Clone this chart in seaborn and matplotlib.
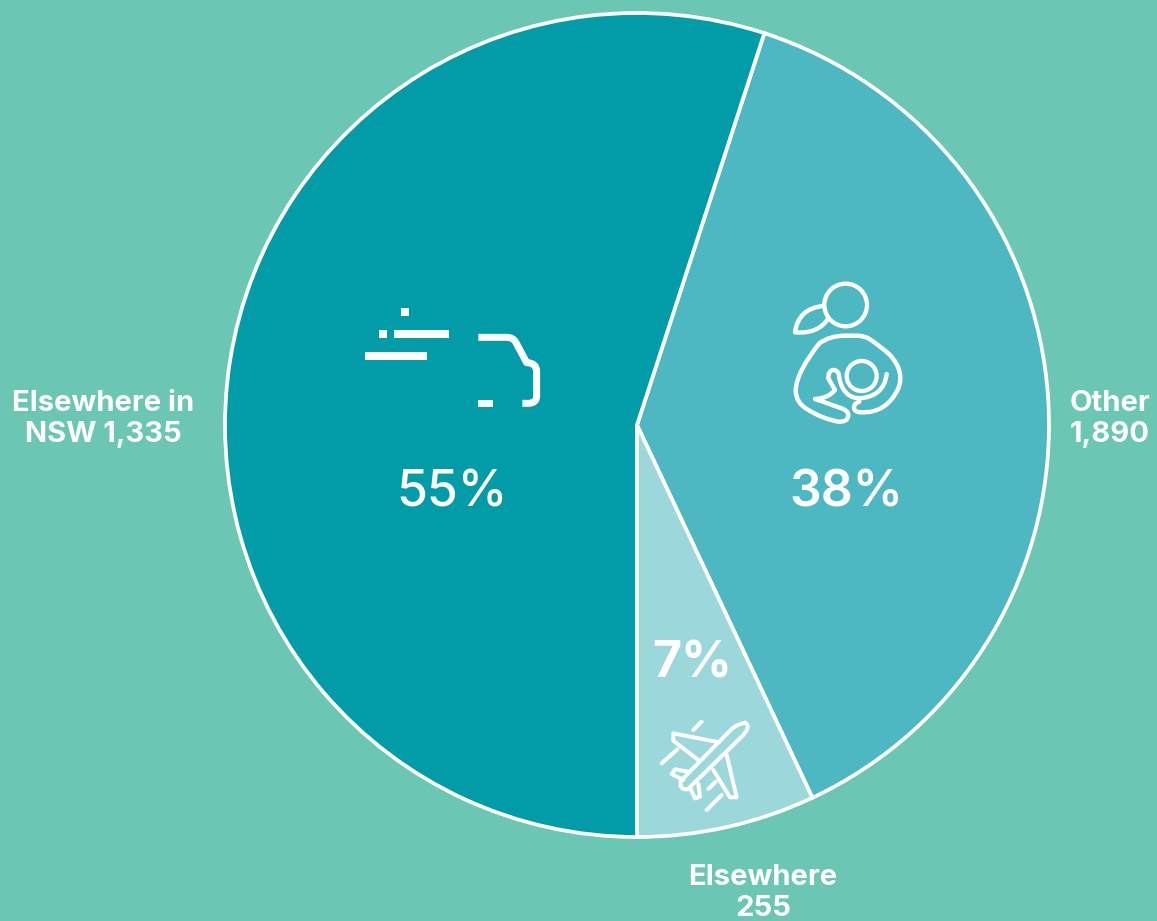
import matplotlib
matplotlib.use("Agg")
import matplotlib.pyplot as plt
import seaborn as sns
from matplotlib.path import Path
from matplotlib.patches import PathPatch, Circle, Rectangle

# Share of people by location, clockwise from the "Other" slice
slice_names = ["Other", "Elsewhere", "Elsewhere in NSW"]
slice_shares = [38, 7, 55]
share_labels = ["38%", "7%", "55%"]
slice_colors = ["#4DB8C2", "#9CD8DB", "#019CA8"]
count_labels = ["Other\n1,890", "Elsewhere\n255", "Elsewhere in\nNSW 1,335"]

BG = "#6BC6B3"
W, H = 1157, 921

sns.set_theme(style="white")
plt.rcParams["font.family"] = ["Inter", "DejaVu Sans"]

fig = plt.figure(figsize=(W / 100, H / 100), dpi=100, facecolor=BG)

# Pie, with its axes sized to the circle
ax = fig.add_axes([(637 - 412) / W, (H - 837) / H, 824 / W, 824 / H])
ax.pie(slice_shares, colors=slice_colors, startangle=72, counterclock=False,
       radius=1.0, wedgeprops=dict(edgecolor="white", linewidth=2.7, clip_on=False))
ax.set_xlim(-1, 1)
ax.set_ylim(-1, 1)

# Overlay in pixel units for the labels and line icons
ov = fig.add_axes([0, 0, 1, 1], facecolor="none")
ov.set_xlim(0, W)
ov.set_ylim(H, 0)
ov.axis("off")

for (x, y), s, size, weight in zip([(846, 493), (692, 664), (452, 493)], share_labels,
                                   [36, 36, 36], [600, 700, 500]):
    ov.text(x, y, s, color="white", fontsize=size, fontweight=weight, ha="center", va="center")

for (x, y), s in zip([(1110, 419), (763, 893), (103, 419)], count_labels):
    ov.text(x, y, s, color="white", fontsize=21, fontweight="bold", ha="center", va="center",
            linespacing=1.22)


def stroke(ox, oy, segments, lw, cap="round"):
    """Stroke a poly-curve given in 3x icon units; a 4-number item is a quadratic (ctrl, end)."""
    verts, codes = [], []
    for i, seg in enumerate(segments):
        if len(seg) == 2:
            verts.append((ox + seg[0] / 3, oy + seg[1] / 3))
            codes.append(Path.MOVETO if i == 0 else Path.LINETO)
        else:
            verts.append((ox + seg[0] / 3, oy + seg[1] / 3))
            verts.append((ox + seg[2] / 3, oy + seg[3] / 3))
            codes += [Path.CURVE3, Path.CURVE3]
    ov.add_patch(PathPatch(Path(verts, codes), fill=False, edgecolor="white",
                           linewidth=lw * 0.72, capstyle=cap, joinstyle="round"))


# Truck icon
for x0, y0, x1, y1 in [(401, 308, 408.5, 315.5), (379, 330, 387, 337.5), (394, 330, 449, 337.5),
                       (365, 352, 427, 359.5), (478, 400, 493, 407)]:
    ov.add_patch(Rectangle((x0, y0), x1 - x0, y1 - y0, facecolor="white", edgecolor="none"))
stroke(350, 290, [(385, 142), (470, 142), (490, 142, 498, 158), (530, 218), (560, 218, 560, 245),
                  (560, 318), (560, 340, 535, 340), (517, 340)], 7, cap="butt")

# Mother and baby icon
ov.add_patch(Circle((780 + 197 / 3, 275 + 90 / 3), 64 / 3, fill=False, edgecolor="white", linewidth=3.1))
ov.add_patch(Circle((780 + 245 / 3, 275 + 303 / 3), 45 / 3, fill=False, edgecolor="white", linewidth=3.1))
stroke(780, 275, [(130, 93), (55, 100, 45, 172), (115, 178, 145, 130)], 4.4)
stroke(780, 275, [(195, 182), (150, 182, 118, 205), (50, 290, 47, 345), (47, 385, 85, 405),
                  (130, 432, 175, 440), (205, 442, 205, 420), (205, 408, 185, 400), (105, 372),
                  (145, 370, 165, 345), (145, 310), (145, 285, 160, 285), (178, 285, 178, 310),
                  (190, 368, 238, 370), (312, 365, 320, 297)], 4.4)
stroke(780, 275, [(238, 380), (222, 385, 222, 398), (222, 412, 245, 412), (320, 415, 355, 340),
                  (375, 290, 330, 240), (300, 212, 265, 190), (250, 182, 230, 182), (195, 182)], 4.4)

# Plane icon
plane = [[(300, 38), (270, 45, 255, 62), (108, 212), (100, 240, 128, 238), (285, 85), (322, 50, 300, 38)],
         [(222, 97), (85, 70), (85, 92), (160, 150)],
         [(245, 135), (275, 262), (255, 262), (205, 180)],
         [(130, 185), (90, 178), (80, 192), (115, 210)],
         [(137, 237), (150, 265), (165, 260), (160, 222)],
         [(170, 35), (145, 60)], [(97, 118), (50, 160)], [(212, 215), (190, 237)], [(230, 255), (185, 300)]]
for part in plane:
    stroke(645, 710, part, 4)

fig.savefig("out.png", dpi=100, facecolor=BG)
